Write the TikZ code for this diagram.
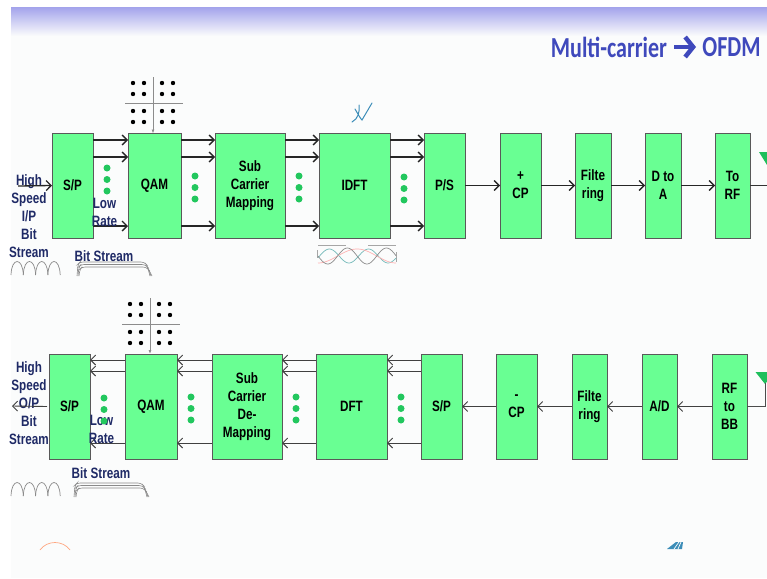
\documentclass[tikz,border=0pt]{standalone}
\usepackage{fontspec}
\setmainfont{Liberation Sans}[FakeStretch=0.78]
\newfontfamily\titlefont{Carlito}[FakeStretch=0.76]
\usetikzlibrary{positioning,arrows.meta}
\definecolor{pagebg}{HTML}{FBFCFC}
\definecolor{bandblue}{HTML}{A6A6EC}
\definecolor{blockgreen}{HTML}{69FF93}
\definecolor{dotgreen}{HTML}{22C75E}
\definecolor{antgreen}{HTML}{1FBF5C}
\definecolor{labelnavy}{HTML}{1F2A66}
\definecolor{titleblue}{HTML}{3F49BC}
\definecolor{wavegray}{HTML}{8A8A8A}
\definecolor{penblue}{HTML}{3C8DB8}
\tikzset{
	blockbox/.style={draw=black!65, fill=blockgreen, line width=0.9pt, inner sep=0pt, outer sep=0pt, align=center, font=\fontsize{15}{18}\selectfont\bfseries},
	sidetext/.style={inner sep=0pt, align=center, text=labelnavy, font=\fontsize{15}{18}\selectfont\bfseries},
	titletext/.style={inner sep=0pt, text=titleblue, font=\titlefont\fontsize{29}{32}\selectfont\bfseries},
	txline/.style={line width=1.3pt, draw=black!85, -{Straight Barb[length=5pt,width=10pt]}},
	rxline/.style={line width=0.9pt, draw=black!75, -{Straight Barb[length=5pt,width=10pt]}},
	axisline/.style={line width=0.9pt, draw=black!45},
}
\begin{document}
\begin{tikzpicture}[x=1pt,y=-1pt]
		\useasboundingbox (0,0) rectangle (767,578);
		\clip (0,0) rectangle (767,578);
		
		\fill[pagebg] (11,8) rectangle (767,578);
		\shade[top color=bandblue, bottom color=pagebg] (11,8) rectangle (767,36);
		
		\node[titletext] (multi) at (609,47) {Multi-carrier};
		\node[titletext] (ofdm) at (731.5,47) {OFDM};
		\draw[line width=4pt, draw=titleblue, -{Straight Barb[length=8pt,width=20pt,line width=4.5pt]}] (multi.east) ++(7,0) coordinate (arrowtail) -- (ofdm.west -| 696,47);
		
		% transmit chain
		\node[blockbox, minimum width=41pt, minimum height=105pt] (spa) at (72.5,185.5) {S/P};
		\node[blockbox, minimum width=53pt, minimum height=105pt] (qama) at (154.5,186) {QAM};
		\node[blockbox, minimum width=70pt, minimum height=105pt] (suba) at (250,185.5) {Sub\\Carrier\\Mapping};
		\node[blockbox, minimum width=71pt, minimum height=105pt] (idft) at (354.5,185.5) {IDFT};
		\node[blockbox, minimum width=41pt, minimum height=105pt] (ps) at (444.5,185.5) {P/S};
		\node[blockbox, minimum width=41pt, minimum height=105pt] (cpa) at (520.5,185.5) {+\\CP};
		\node[blockbox, minimum width=36pt, minimum height=105pt] (fila) at (593,185.5) {Filte\\ring};
		\node[blockbox, minimum width=36pt, minimum height=105pt] (dtoa) at (663,185.5) {D to\\A};
		\node[blockbox, minimum width=35pt, minimum height=105pt] (torf) at (732.5,185.5) {To\\RF};
		
		% receive chain
		\node[blockbox, minimum width=41pt, minimum height=105pt] (spc) at (69.5,406.5) {S/P};
		\node[blockbox, minimum width=52pt, minimum height=105pt] (qamb) at (151,406.5) {QAM};
		\node[blockbox, minimum width=70pt, minimum height=105pt] (subb) at (247,406.5) {Sub\\Carrier\\De-\\Mapping};
		\node[blockbox, minimum width=71pt, minimum height=105pt] (dft) at (351.5,406.5) {DFT};
		\node[blockbox, minimum width=41pt, minimum height=105pt] (spb) at (441.5,406.5) {S/P};
		\node[blockbox, minimum width=41pt, minimum height=105pt] (cpb) at (516.5,406.5) {-\\CP};
		\node[blockbox, minimum width=35pt, minimum height=105pt] (filb) at (589.5,406.5) {Filte\\ring};
		\node[blockbox, minimum width=35pt, minimum height=105pt] (atod) at (659.5,406.5) {A/D};
		\node[blockbox, minimum width=35pt, minimum height=105pt] (rfbb) at (729.5,406.5) {RF\\to\\BB};
		
		\foreach \a/\b in {spa/qama,qama/suba,suba/idft,idft/ps}
			\foreach \y in {140,157,226}
				\draw[txline] (\a.east |- 0,\y) -- (\b.west |- 0,\y);
		\foreach \a/\b in {ps/cpa,cpa/fila,fila/dtoa,dtoa/torf}
			\draw[txline] (\a) -- (\b);
		
		\foreach \a/\b in {qamb/spc,subb/qamb,dft/subb,spb/dft}
			\foreach \y in {360,371,443}
				\draw[rxline] (\a.west |- 0,\y) -- (\b.east |- 0,\y);
		\foreach \a/\b in {rfbb/atod,atod/filb,filb/cpb,cpb/spb}
			\draw[rxline] (\a) -- (\b);
		
		% side labels
		\node[sidetext] (hightx) at (29,216) {High\\Speed\\I/P\\Bit\\Stream};
		\node[sidetext] (highrx) at (29,403) {High\\Speed\\O/P\\Bit\\Stream};
		\node[sidetext] (lowtx) at (104.5,212) {Low\\Rate};
		\node[sidetext] (lowrx) at (101.5,429) {Low\\Rate};
		\node[sidetext] (bitstx) at (104,256) {Bit Stream};
		\node[sidetext] (bitsrx) at (101,473) {Bit Stream};
		
		\coordinate (instart) at (18,186);
		\coordinate (outend) at (12,406);
		\draw[txline] (instart) -- (spa.west);
		\draw[rxline] (spc.west) ++(-2,0) -- (outend);
		
		% green dots
		\foreach \x/\y in {107/168,195/176,299/176,404/177,104/398,191/397,296/397,401/397}
			\foreach \k in {0,11.5,23}
				\fill[dotgreen] (\x,\y+\k) circle (3.5);
		
		% constellations
		\foreach \cx/\cy/\ctop in {153/103/qama,150/324/qamb} {
			\draw[axisline] (\cx-28,\cy) -- (\cx+30,\cy);
			\draw[axisline, -{Latex[length=4pt,width=3pt]}] (\cx,\cy-26) -- (\ctop.north -| \cx,0);
			\foreach \dx in {-20,-9,9,20}
				\foreach \dy in {-20,-9,8,19}
					\fill[black] (\cx+\dx,\cy+\dy) circle (2.2);
		}
		
		% pulses under the first block
		\foreach \sx/\sy in {11/275,11/496}
			\foreach \k in {0,1,2,3}
				\draw[wavegray, line width=0.7pt] (\sx+\k*12.3,\sy) .. controls (\sx+\k*12.3+0.5,\sy-18) and (\sx+\k*12.3+11.8,\sy-18) .. (\sx+\k*12.3+12.3,\sy);
		\foreach \sx/\sy/\ex in {77/276/153,74/497/150}
			\foreach \k in {0,1,2}
				\draw[wavegray, line width=0.6pt, rounded corners=3pt] (\sx+\k,\sy) -- (\sx+\k+1,\sy-12+\k*2.5) -- (\sx+\k+3,\sy-14+\k*2.5) -- (\ex-6+\k-3,\sy-14+\k*2.5) -- (\ex-3+\k-3,\sy-11+\k*2.5) -- (\ex+\k-3,\sy);
		
		% sub-carrier sketch below the IDFT
		\draw[black!35, line width=0.4pt] (318,245) -- (346,245) (368,245) -- (396,245);
		\draw[black!35, line width=0.4pt] (317,250) -- (317,258) (396,252) -- (396,262);
		\draw[teal!55, line width=0.7pt, smooth] plot[domain=318:396,samples=60] (\x,{256+7*sin(9.2*(\x-300))});
		\draw[red!30, line width=0.7pt, smooth] plot[domain=318:396,samples=60] (\x,{256+7*cos(4.6*(\x-318))});
		\draw[black!45, line width=0.7pt, smooth] plot[domain=318:396,samples=60] (\x,{256+8*sin(9.2*(\x-318))});
		
		% antennas
		\fill[antgreen] (759,152) -- (775,152) -- (767,165) -- cycle;
		\draw[line width=0.9pt, draw=black!80] (torf.east) -- (767,185.5);
		\fill[antgreen] (755.5,372) -- (775,372) -- (765,384) -- cycle;
		\draw[line width=0.9pt, draw=black!70] (rfbb.east) -- (765,406.5) -- (765,383);
		
		% pen marks
		\draw[penblue, line width=1pt, line cap=round] (352,122) .. controls (358,119) and (360,112) .. (359,105) (355,109) .. controls (358,114) and (360,118) .. (362,120) -- (372,103);
		\draw[red!40!orange!50, line width=0.7pt] (40,550) .. controls (47,540) and (63,540) .. (70,550);
		\fill[penblue] (667,549) -- (676,542) -- (683,542) -- (682,549) -- cycle;
		\draw[pagebg, line width=0.7pt] (674,549) -- (679,542) (678,549) -- (681,542);
		
	\end{tikzpicture}
\end{document}
